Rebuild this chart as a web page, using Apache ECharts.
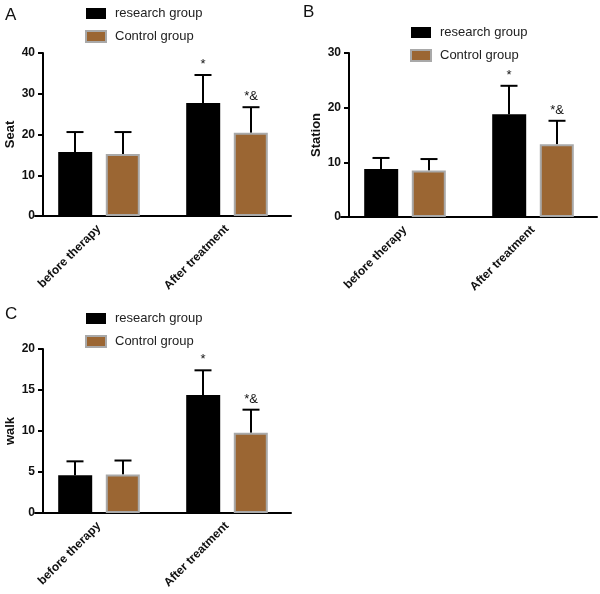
<!DOCTYPE html>
<html><head><meta charset="utf-8">
<script src="https://cdn.jsdelivr.net/npm/echarts@6/dist/echarts.min.js"></script>
<style>html,body{margin:0;padding:0;background:#fff}#c{width:600px;height:594px}</style>
</head><body><div id="c"></div>
<script>
// ---- data ----
const categories = ['before therapy', 'After treatment'];
const seriesNames = ['research group', 'Control group'];

const seatResearch = [15.7, 27.7];
const seatResearchSD = [4.9, 6.9];
const seatControl = [15.2, 20.4];
const seatControlSD = [5.4, 6.3];

const stationResearch = [8.8, 18.8];
const stationResearchSD = [2.0, 5.2];
const stationControl = [8.5, 13.3];
const stationControlSD = [2.1, 4.3];

const walkResearch = [4.6, 14.4];
const walkResearchSD = [1.7, 3.0];
const walkControl = [4.7, 9.8];
const walkControlSD = [1.7, 2.8];

const researchMarks = ['', '*'];
const controlMarks = ['', '*&'];

const yNames = ['Seat', 'Station', 'walk'];
const yMax = [40, 30, 20];
const yInterval = [10, 10, 5];
const panelLetters = ['A', 'B', 'C'];

// ---- style ----
const FONT = 'Liberation Sans, Arial, Helvetica, sans-serif';
const BROWN = '#9b6633';
const BORDER = '#a9a9a9';
const BAR_W = 34;
const HALF = 24;

const grids = [
  {left: 35, top: 53, width: 256, height: 163},
  {left: 341, top: 53, width: 256, height: 164},
  {left: 35, top: 349, width: 256, height: 164}
];
const legendPos = [{left: 80, top: 2}, {left: 405, top: 21}, {left: 80, top: 307}];
const letterPos = [{left: 0, top: 2}, {left: 298, top: -1}, {left: 0, top: 301}];

const panels = [
  [seatResearch, seatResearchSD, seatControl, seatControlSD],
  [stationResearch, stationResearchSD, stationControl, stationControlSD],
  [walkResearch, walkResearchSD, walkControl, walkControlSD]
];

function errRender(offset, marks) {
  return function (params, api) {
    const i = api.value(0), v = api.value(1), sd = api.value(2);
    const p0 = api.coord([i, v]);
    const p1 = api.coord([i, v + sd]);
    const x = p0[0] + offset;
    const children = [
      {type: 'line', shape: {x1: x, y1: p0[1], x2: x, y2: p1[1]}, style: {stroke: '#000', lineWidth: 2}},
      {type: 'line', shape: {x1: x - 8.5, y1: p1[1], x2: x + 8.5, y2: p1[1]}, style: {stroke: '#000', lineWidth: 2}}
    ];
    const m = marks[params.dataIndex];
    if (m) {
      children.push({type: 'text', style: {text: m, x: x, y: p1[1] - 4, align: 'center', verticalAlign: 'bottom',
        font: '13px ' + FONT, fill: '#111'}});
    }
    return {type: 'group', children: children};
  };
}

const option = {
  animation: false,
  backgroundColor: '#fff',
  title: panelLetters.map((t, k) => ({text: t, left: letterPos[k].left, top: letterPos[k].top,
    textStyle: {fontFamily: FONT, fontSize: 17, fontWeight: 'normal', color: '#111'}})),
  legend: panels.map((p, k) => ({
    data: seriesNames, orient: 'vertical', left: legendPos[k].left, top: legendPos[k].top,
    icon: 'rect', itemWidth: 20, itemHeight: 11, itemGap: 10, selectedMode: false,
    textStyle: {fontFamily: FONT, fontSize: 13, color: '#222', padding: [0, 0, 0, 4]}
  })),
  grid: grids,
  xAxis: grids.map((g, k) => ({
    type: 'category', gridIndex: k, data: categories,
    axisLine: {lineStyle: {color: '#000', width: 2}},
    axisTick: {alignWithLabel: true, length: 6, lineStyle: {color: '#000', width: 2}},
    axisLabel: {rotate: 45, margin: 11, fontFamily: FONT, fontSize: 12, fontWeight: 'bold', color: '#111'}
  })),
  yAxis: grids.map((g, k) => ({
    type: 'value', gridIndex: k, min: 0, max: yMax[k], interval: yInterval[k], offset: -8,
    name: yNames[k], nameLocation: 'middle', nameGap: 26,
    nameTextStyle: {fontFamily: FONT, fontSize: 13, fontWeight: 'bold', color: '#111'},
    splitLine: {show: false},
    axisLine: {show: true, lineStyle: {color: '#000', width: 2}},
    axisTick: {show: true, length: 5, lineStyle: {color: '#000', width: 2}},
    axisLabel: {margin: 8, fontFamily: FONT, fontSize: 12, fontWeight: 'bold', color: '#111'}
  })),
  series: []
};

panels.forEach((p, k) => {
  option.series.push({
    type: 'bar', name: seriesNames[0], xAxisIndex: k, yAxisIndex: k, data: p[0],
    barWidth: BAR_W, barGap: '40%', itemStyle: {color: '#000'}
  });
  option.series.push({
    type: 'bar', name: seriesNames[1], xAxisIndex: k, yAxisIndex: k, data: p[2],
    barWidth: BAR_W, barGap: '40%', itemStyle: {color: BROWN, borderColor: BORDER, borderWidth: 2}
  });
  option.series.push({
    type: 'custom', xAxisIndex: k, yAxisIndex: k, z: 1,
    data: p[0].map((v, i) => [i, v, p[1][i]]),
    renderItem: errRender(-HALF, researchMarks)
  });
  option.series.push({
    type: 'custom', xAxisIndex: k, yAxisIndex: k, z: 1,
    data: p[2].map((v, i) => [i, v, p[3][i]]),
    renderItem: errRender(HALF, controlMarks)
  });
});

const chart = echarts.init(document.getElementById('c'), null, {renderer: 'canvas'});
chart.setOption(option);
</script>
</body></html>
